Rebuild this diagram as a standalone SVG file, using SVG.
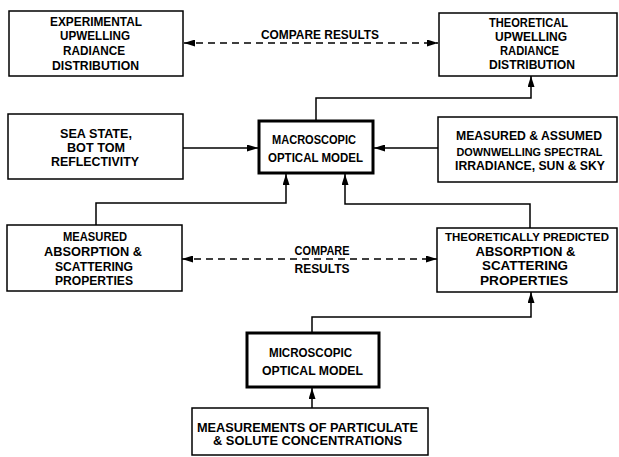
<svg xmlns="http://www.w3.org/2000/svg" width="619" height="457" viewBox="0 0 619 457">
<style>
  .box { fill: #fff; stroke: #000; stroke-width: 1.5; }
  .thick { fill: #fff; stroke: #000; stroke-width: 3; }
  .lbl { font-family: "Liberation Sans", Arial, sans-serif; font-weight: bold; font-size: 12.5px; fill: #000; text-anchor: middle; }
  .sm { font-size: 11px; }
  .con { fill: none; stroke: #000; stroke-width: 1.5; }
  .dash { stroke-dasharray: 7 5; }
</style>
<defs>
  <marker id="ah" viewBox="0 0 11 7" refX="11" refY="3.5" markerWidth="11" markerHeight="7" markerUnits="userSpaceOnUse" orient="auto-start-reverse">
    <path d="M0,0 L11,3.5 L0,7 z" fill="#000"/>
  </marker>
</defs>
<rect width="619" height="457" fill="#fff"/>
<g id="connectors">
  <path class="con dash" d="M184,43 H438" marker-start="url(#ah)" marker-end="url(#ah)"/>
  <path class="con" d="M316,121 V98 H531 V76" marker-end="url(#ah)"/>
  <path class="con" d="M183,148 H258" marker-end="url(#ah)"/>
  <path class="con" d="M438,148 H374" marker-end="url(#ah)"/>
  <path class="con" d="M96,225 V203 H286 V174" marker-end="url(#ah)"/>
  <path class="con" d="M530,228 V204 H345 V174" marker-end="url(#ah)"/>
  <path class="con dash" d="M182,259 H437" marker-start="url(#ah)" marker-end="url(#ah)"/>
  <path class="con" d="M312,333 V317 H531 V292" marker-end="url(#ah)"/>
  <path class="con" d="M312,408 V388" marker-end="url(#ah)"/>
  <text class="lbl" x="320" y="39" textLength="118" lengthAdjust="spacingAndGlyphs">COMPARE RESULTS</text>
  <text class="lbl" x="322" y="255" textLength="55" lengthAdjust="spacingAndGlyphs">COMPARE</text>
  <text class="lbl" x="322" y="273" textLength="55" lengthAdjust="spacingAndGlyphs">RESULTS</text>
</g>
<g id="experimental">
  <rect class="box" x="9" y="11" width="174" height="65"/>
  <text class="lbl" x="96" y="26" textLength="92" lengthAdjust="spacingAndGlyphs">EXPERIMENTAL</text>
  <text class="lbl" x="95" y="40" textLength="70" lengthAdjust="spacingAndGlyphs">UPWELLING</text>
  <text class="lbl" x="94" y="55" textLength="62" lengthAdjust="spacingAndGlyphs">RADIANCE</text>
  <text class="lbl" x="95.5" y="70" textLength="87" lengthAdjust="spacingAndGlyphs">DISTRIBUTION</text>
</g>
<g id="theoretical">
  <rect class="box" x="439" y="13" width="178" height="63"/>
  <text class="lbl" x="528.5" y="27" textLength="79" lengthAdjust="spacingAndGlyphs">THEORETICAL</text>
  <text class="lbl" x="531" y="41" textLength="72" lengthAdjust="spacingAndGlyphs">UPWELLING</text>
  <text class="lbl" x="529.5" y="55" textLength="59" lengthAdjust="spacingAndGlyphs">RADIANCE</text>
  <text class="lbl" x="532" y="69" textLength="86" lengthAdjust="spacingAndGlyphs">DISTRIBUTION</text>
</g>
<g id="seastate">
  <rect class="box" x="8" y="114" width="175" height="65"/>
  <text class="lbl" x="96" y="138" textLength="72" lengthAdjust="spacingAndGlyphs">SEA STATE,</text>
  <text class="lbl" x="96" y="151.5" textLength="58" lengthAdjust="spacingAndGlyphs">BOT TOM</text>
  <text class="lbl" x="95" y="165.5" textLength="88" lengthAdjust="spacingAndGlyphs">REFLECTIVITY</text>
</g>
<g id="macroscopic">
  <rect class="thick" x="259" y="121" width="114" height="52"/>
  <text class="lbl" x="314" y="144" textLength="84" lengthAdjust="spacingAndGlyphs">MACROSCOPIC</text>
  <text class="lbl" x="315.5" y="162" textLength="95" lengthAdjust="spacingAndGlyphs">OPTICAL MODEL</text>
</g>
<g id="downwelling">
  <rect class="box" x="438" y="117" width="179" height="65"/>
  <text class="lbl" x="529" y="140" textLength="146" lengthAdjust="spacingAndGlyphs">MEASURED &amp; ASSUMED</text>
  <text class="lbl sm" x="529.5" y="155.5" textLength="146" lengthAdjust="spacingAndGlyphs">DOWNWELLING SPECTRAL</text>
  <text class="lbl" x="530" y="170" textLength="150" lengthAdjust="spacingAndGlyphs">IRRADIANCE, SUN &amp; SKY</text>
</g>
<g id="measured">
  <rect class="box" x="7" y="225" width="175" height="66"/>
  <text class="lbl" x="95" y="241" textLength="64" lengthAdjust="spacingAndGlyphs">MEASURED</text>
  <text class="lbl" x="93" y="256" textLength="98" lengthAdjust="spacingAndGlyphs">ABSORPTION &amp;</text>
  <text class="lbl" x="94" y="271" textLength="78" lengthAdjust="spacingAndGlyphs">SCATTERING</text>
  <text class="lbl" x="94" y="285" textLength="78" lengthAdjust="spacingAndGlyphs">PROPERTIES</text>
</g>
<g id="predicted">
  <rect class="box" x="437" y="228" width="180" height="64"/>
  <text class="lbl sm" x="527" y="241" textLength="164" lengthAdjust="spacingAndGlyphs">THEORETICALLY PREDICTED</text>
  <text class="lbl" x="525.5" y="255.5" textLength="100" lengthAdjust="spacingAndGlyphs">ABSORPTION &amp;</text>
  <text class="lbl" x="525" y="270" textLength="86" lengthAdjust="spacingAndGlyphs">SCATTERING</text>
  <text class="lbl" x="524" y="285" textLength="88" lengthAdjust="spacingAndGlyphs">PROPERTIES</text>
</g>
<g id="microscopic">
  <rect class="thick" x="247" y="333" width="132" height="54"/>
  <text class="lbl" x="310.5" y="357" textLength="83" lengthAdjust="spacingAndGlyphs">MICROSCOPIC</text>
  <text class="lbl" x="312.5" y="375" textLength="101" lengthAdjust="spacingAndGlyphs">OPTICAL MODEL</text>
</g>
<g id="concentrations">
  <rect class="box" x="192" y="408" width="236" height="47"/>
  <text class="lbl" x="307.5" y="432" textLength="221" lengthAdjust="spacingAndGlyphs">MEASUREMENTS OF PARTICULATE</text>
  <text class="lbl" x="307.5" y="445" textLength="189" lengthAdjust="spacingAndGlyphs">&amp; SOLUTE CONCENTRATIONS</text>
</g>
</svg>
